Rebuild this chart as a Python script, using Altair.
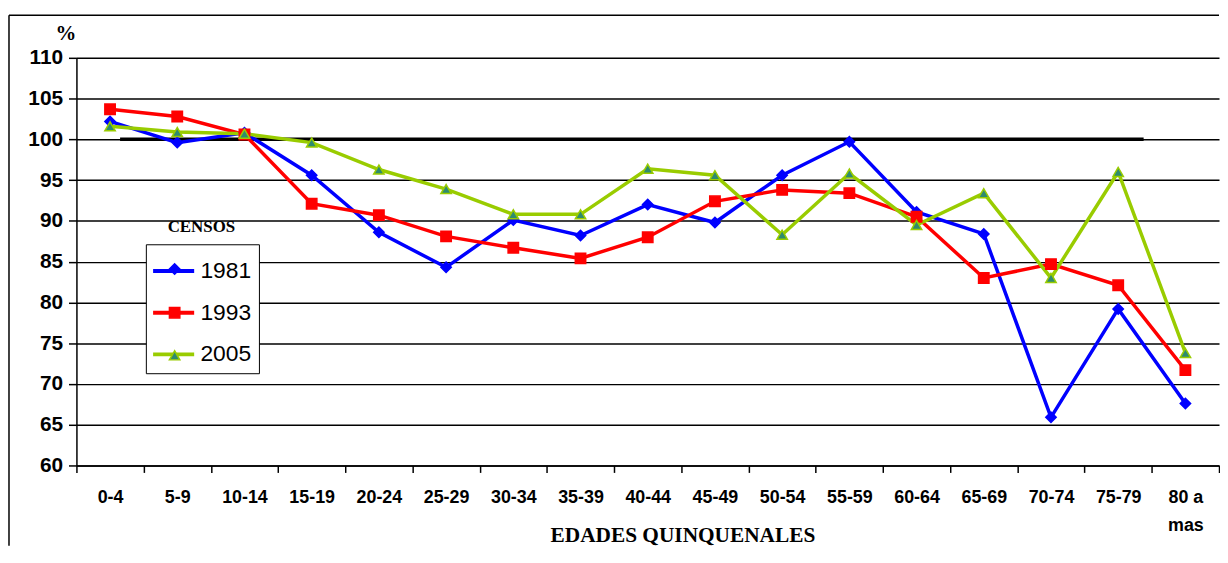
import altair as alt
import pandas as pd

grupos = ["0-4", "5-9", "10-14", "15-19", "20-24", "25-29", "30-34", "35-39", "40-44",
          "45-49", "50-54", "55-59", "60-64", "65-69", "70-74", "75-79", "80 a mas"]
censos = ["1981", "1993", "2005"]
v1981 = [102.2, 99.6, 100.8, 95.6, 88.6, 84.3, 90.1, 88.2, 92.0, 89.8, 95.6, 99.7, 91.1, 88.4, 65.9, 79.2, 67.6]
v1993 = [103.7, 102.8, 100.6, 92.1, 90.7, 88.1, 86.7, 85.4, 88.0, 92.4, 93.8, 93.4, 90.5, 83.0, 84.7, 82.1, 71.7]
v2005 = [101.6, 100.9, 100.7, 99.6, 96.3, 93.9, 90.8, 90.8, 96.4, 95.6, 88.3, 95.8, 89.5, 93.4, 83.0, 96.0, 73.8]
referencia = 100
y_ticks = list(range(60, 111, 5))

line_colors = ["#0000FF", "#FF0000", "#99CC00"]
fill_colors = ["#0000FF", "#FF0000", "#2E8B6E"]
shapes = ["diamond", "square", "triangle-up"]

rows = []
for c, vals in zip(censos, [v1981, v1993, v2005]):
    for g, v in zip(grupos, vals):
        rows.append({"grupo": g, "censo": c, "linea": c, "valor": v})
df = pd.DataFrame(rows)

NARROW = "Liberation Sans Narrow, Arial Narrow, Liberation Sans, Arial"
SERIF = "Liberation Serif, Times New Roman, serif"
W, H = 1152, 411

x_enc = alt.X(
    "grupo:N", sort=grupos,
    scale=alt.Scale(type="band", paddingInner=0, paddingOuter=0),
    axis=alt.Axis(
        title="EDADES QUINQUENALES", titleFont=SERIF, titleFontSize=21.5, titleFontWeight="bold",
        titleColor="black", titleX=611, titleY=77, titleBaseline="alphabetic", titleAnchor="start",
        titleAlign="center",
        labelAngle=0, labelFont=NARROW, labelFontSize=18, labelFontWeight="bold", labelColor="black",
        labelPadding=16, labelLineHeight=29,
        labelExpr="datum.value == '80 a mas' ? ['80 a', 'mas'] : datum.value",
        tickBand="extent", tickColor="black", tickSize=7, tickWidth=1.5,
        domainColor="black", domainWidth=1.5, grid=False,
    ),
)
y_enc = alt.Y(
    "valor:Q", scale=alt.Scale(domain=[60, 110], nice=False, zero=False),
    axis=alt.Axis(
        values=y_ticks, title="%", titleAngle=0, titleFont=SERIF, titleFontSize=21,
        titleFontWeight="bold", titleColor="black", titleX=-11, titleY=-24,
        titleAlign="center", titleBaseline="middle",
        labelFont=NARROW, labelFontSize=21, labelFontWeight="bold", labelColor="black",
        labelPadding=6, tickColor="black", tickSize=8, tickWidth=1.5,
        domainColor="black", domainWidth=1.5,
        grid=True, gridColor="black", gridWidth=1.5,
    ),
)

one = pd.DataFrame({"k": [0]})

ref = alt.Chart(one).mark_rule(color="black", strokeWidth=3.5).encode(
    y=alt.datum(referencia), x=alt.value(44), x2=alt.value(1076)
)

lines = alt.Chart(df).mark_line(strokeWidth=3.5).encode(
    x=x_enc, y=y_enc,
    color=alt.Color(
        "linea:N",
        scale=alt.Scale(range=line_colors),
        legend=alt.Legend(
            title=None, orient="none", legendX=70, legendY=188,
            symbolType="M-1.15,0H1.15", symbolSize=1296, symbolStrokeWidth=4,
            labelFont=NARROW, labelFontSize=23, labelColor="black", labelOffset=7,
            labelLimit=0, padding=7, rowPadding=10, symbolOffset=1,
            strokeColor="black", fillColor="white", zindex=1,
        ),
    ),
)

shape_legend = alt.Legend(
    title=None, orient="none", legendX=70, legendY=203,
    symbolSize=110, symbolStrokeWidth=1.5,
    labelExpr="''", labelFontSize=1, labelOffset=0,
    padding=4, rowPadding=26, symbolOffset=19, zindex=2,
)

points = alt.Chart(df).mark_point(filled=True, size=110, strokeWidth=1.5, opacity=1).encode(
    x=x_enc, y=y_enc,
    shape=alt.Shape("censo:N", scale=alt.Scale(domain=censos, range=shapes), legend=shape_legend),
    fill=alt.Fill("censo:N", scale=alt.Scale(domain=censos, range=fill_colors), legend=shape_legend),
    stroke=alt.Stroke("censo:N", scale=alt.Scale(domain=censos, range=line_colors), legend=shape_legend),
)

censos_title = alt.Chart(pd.DataFrame({"t": ["CENSOS"]})).mark_text(
    font=SERIF, fontSize=17, fontWeight="bold", color="black", baseline="middle", align="center"
).encode(text="t:N", x=alt.value(126), y=alt.value(171))

frame_top = alt.Chart(one).mark_rule(color="black", strokeWidth=1.5).encode(
    x=alt.value(-68), x2=alt.value(W), y=alt.value(-43)
)
frame_left = alt.Chart(one).mark_rule(color="black", strokeWidth=1.5).encode(
    x=alt.value(-68), y=alt.value(-43), y2=alt.value(492)
)

chart = alt.layer(ref, lines, points, censos_title, frame_top, frame_left).properties(
    width=W, height=H, padding={"left": 0, "top": 4, "right": 0, "bottom": 0},
    background="white",
).configure_view(strokeWidth=0)

chart.save("out.html", embed_options={"renderer": "svg", "actions": False})
